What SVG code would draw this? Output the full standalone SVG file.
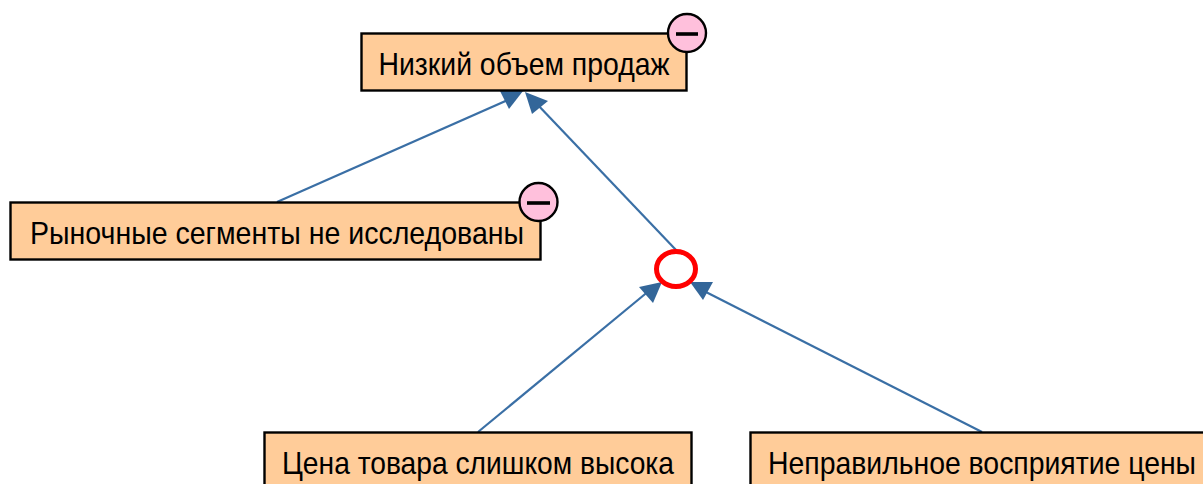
<svg xmlns="http://www.w3.org/2000/svg" width="1203" height="484" viewBox="0 0 1203 484">
<style>
.box{fill:#ffcc99;stroke:#000;stroke-width:2.4}
.t{font-family:"Liberation Sans",Arial,sans-serif;font-size:29px;fill:#000;text-anchor:middle}
.badge{fill:#ffc0dc;stroke:#000;stroke-width:2.4}
.dash{stroke:#000;stroke-width:3.6;fill:none}
.c{stroke:#3a6fa5;stroke-width:2.2;fill:none}
.h{fill:#336699}
</style>
<rect width="1203" height="484" fill="#fff"/>
<g id="connectors">
<line class="c" x1="277" y1="202" x2="510" y2="99"/>
<polygon class="h" points="523,91 500,91 509,109"/>
<line class="c" x1="676" y1="250" x2="536" y2="103"/>
<polygon class="h" points="525,92 548,101 532,114"/>
<line class="c" x1="478" y1="432" x2="650" y2="290"/>
<polygon class="h" points="662,282 639,287 653,303"/>
<line class="c" x1="982" y1="432" x2="702" y2="290"/>
<polygon class="h" points="690,282 713,282 703,300"/>
</g>
<g id="node-sales">
<rect class="box" x="361.500" y="33.500" width="325" height="57"/>
<text class="t" transform="translate(524,75) scale(1,1.1)" textLength="291" lengthAdjust="spacingAndGlyphs">Низкий объем продаж</text>
<circle class="badge" cx="687" cy="33" r="19"/>
<line class="dash" x1="676" y1="34" x2="698" y2="34"/>
</g>
<g id="node-segments">
<rect class="box" x="10.500" y="202.500" width="530" height="57"/>
<text class="t" transform="translate(277,244) scale(1,1.1)" textLength="494" lengthAdjust="spacingAndGlyphs">Рыночные сегменты не исследованы</text>
<circle class="badge" cx="538.500" cy="202" r="19"/>
<line class="dash" x1="527" y1="203" x2="550" y2="203"/>
</g>
<g id="node-and">
<ellipse cx="676" cy="269" rx="19.500" ry="17.500" fill="#fff" stroke="#ff0000" stroke-width="5"/>
</g>
<g id="node-price">
<rect class="box" x="264.500" y="432.500" width="427" height="57"/>
<text class="t" transform="translate(478,474) scale(1,1.1)" textLength="392" lengthAdjust="spacingAndGlyphs">Цена товара слишком высока</text>
</g>
<g id="node-perception">
<rect class="box" x="750.500" y="432.500" width="460" height="57"/>
<text class="t" transform="translate(982,474) scale(1,1.1)" textLength="428" lengthAdjust="spacingAndGlyphs">Неправильное восприятие цены</text>
</g>
</svg>
